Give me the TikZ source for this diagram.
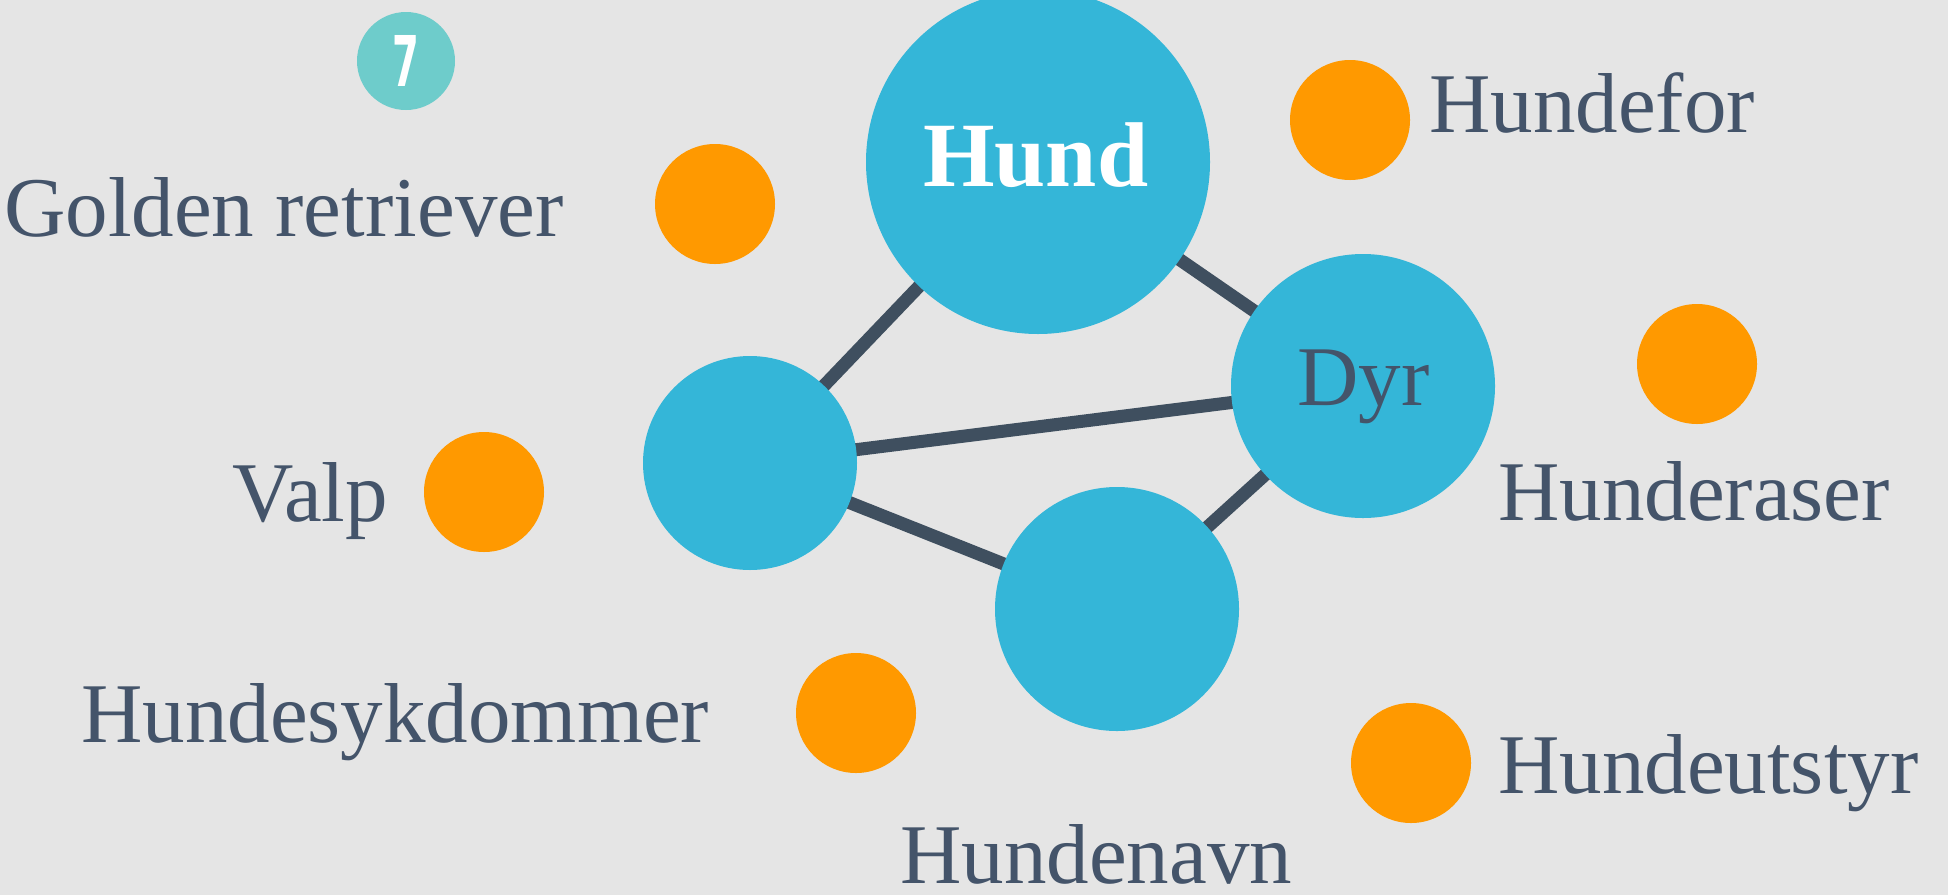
\documentclass[tikz,border=0pt]{standalone}
\usepackage{fontspec}
\setmainfont{Liberation Serif}
\newfontfamily\badgefont{DejaVu Sans}
\definecolor{bgc}{HTML}{E5E5E5}
\definecolor{bluec}{HTML}{34B6D8}
\definecolor{orangec}{HTML}{FF9900}
\definecolor{tealc}{HTML}{6ECCCB}
\definecolor{textc}{HTML}{44546A}
\definecolor{edgec}{HTML}{3F4F5F}
\pgfdeclarelayer{bglayer}
\pgfdeclarelayer{edgelayer}
\pgfsetlayers{bglayer,edgelayer,main}
\begin{document}
\begin{tikzpicture}[x=1pt,y=-1pt,
  bigdot/.style={circle,fill=bluec,inner sep=0pt,draw=none},
  smalldot/.style={circle,fill=orangec,inner sep=0pt,minimum size=120pt,draw=none},
  lbl/.style={anchor=base west,inner sep=0pt,text=textc,font=\fontsize{85}{100}\selectfont},
  edge/.style={draw=edgec,line width=13pt}]
\begin{pgfonlayer}{bglayer}
\fill[bgc] (0,0) rectangle (1948,895);
\end{pgfonlayer}
\useasboundingbox (0,0) rectangle (1948,895);
% blue nodes
\node[bigdot,minimum size=344pt] (hund) at (1038,162) {};
\node[bigdot,minimum size=264pt] (dyr) at (1363,386) {};
\node[bigdot,minimum size=214pt] (left) at (750,463) {};
\node[bigdot,minimum size=244pt] (bottom) at (1117,609) {};
% edges
\begin{pgfonlayer}{edgelayer}
\draw[edge] (hund.center) -- (left.center);
\draw[edge] (hund.center) -- (dyr.center);
\draw[edge] (left.center) -- (dyr.center);
\draw[edge] (left.center) -- (bottom.center);
\draw[edge] (bottom.center) -- (dyr.center);
\end{pgfonlayer}
% orange dots
\node[smalldot] (o1) at (715,204) {};
\node[smalldot] (o2) at (1350,120) {};
\node[smalldot] (o3) at (1697,364) {};
\node[smalldot] (o4) at (484,492) {};
\node[smalldot] (o5) at (856,713) {};
\node[smalldot] (o6) at (1411,763) {};
% badge
\node[circle,fill=tealc,inner sep=0pt,minimum size=98pt] (badge) at (406,61) {};
\node[text=white,inner sep=0pt,font=\badgefont\bfseries\fontsize{70}{72}\selectfont] (badgetxt) at (badge.center) {\scalebox{0.55}[1]{7}};
% labels
\node[anchor=base west,inner sep=0pt,text=white,font=\bfseries\fontsize{92}{100}\selectfont] (hundtxt) at (923,186) {Hund};
\node[lbl] (dyrtxt) at (1297,405) {Dyr};
\node[lbl] (l1) at (4,236) {Golden retriever};
\node[lbl] (l2) at (1429,132) {Hundefor};
\node[lbl] (l3) at (1498,520) {Hunderaser};
\node[lbl] (l4) at (232,521) {Valp};
\node[lbl] (l5) at (81,742) {Hundesykdommer};
\node[lbl] (l6) at (1498,793) {Hundeutstyr};
\node[lbl] (l7) at (900,883) {Hundenavn};
\end{tikzpicture}
\end{document}
